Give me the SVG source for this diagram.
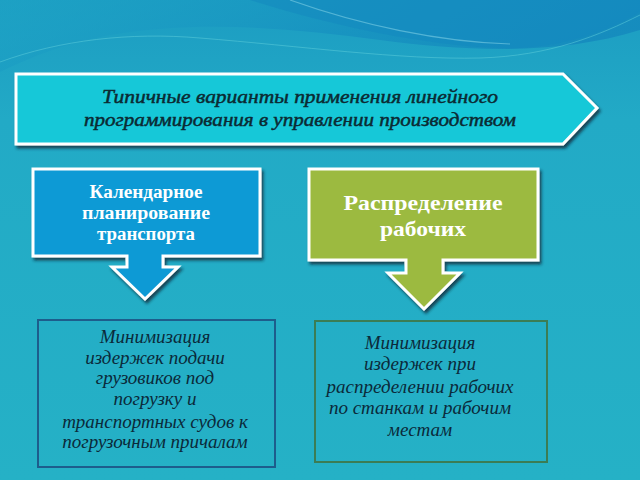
<svg xmlns="http://www.w3.org/2000/svg" width="640" height="480" viewBox="0 0 640 480">
<defs>
<linearGradient id="bg" x1="0" y1="0" x2="0" y2="1">
<stop offset="0" stop-color="#1c9cc2"/>
<stop offset="0.25" stop-color="#22aac6"/>
<stop offset="1" stop-color="#25b1c6"/>
</linearGradient>
<linearGradient id="topwave" x1="0" y1="0" x2="1" y2="0.3">
<stop offset="0" stop-color="#1ea6c6" stop-opacity="0.6"/>
<stop offset="0.6" stop-color="#1690c0" stop-opacity="0.9"/>
<stop offset="1" stop-color="#1488bd"/>
</linearGradient>
<filter id="sh" x="-10%" y="-10%" width="125%" height="130%">
<feDropShadow dx="2" dy="3" stdDeviation="1.5" flood-color="#0a2030" flood-opacity="0.75"/>
</filter>
</defs>
<style>
.hdr{font-family:"Liberation Serif",serif;font-style:italic;font-size:18px;fill:#0b2a33;stroke:#0b2a33;stroke-width:0.45;text-anchor:middle}
.wh{font-family:"Liberation Serif",serif;font-weight:bold;fill:#ffffff;text-anchor:middle}
.it{font-family:"Liberation Serif",serif;font-style:italic;font-size:19px;fill:#0b2a3a;text-anchor:middle}
.shape{stroke:#ffffff;stroke-width:3;stroke-linejoin:miter;filter:url(#sh)}
</style>
<rect width="640" height="480" fill="url(#bg)"/>
<path d="M0,0 H640 V30 C560,55 470,52 380,40 C290,28 200,20 110,35 C60,44 25,60 0,72 Z" fill="url(#topwave)" opacity="0.8"/>
<path d="M250,0 C330,25 420,45 500,48 C560,50 610,30 640,12 V0 Z" fill="#1488c0" opacity="0.55"/>
<path d="M0,62 C60,40 130,32 200,38 C300,46 400,60 480,58 C550,56 600,35 640,15" fill="none" stroke="#5fd0dc" stroke-width="1" opacity="0.5"/>
<path d="M290,0 C360,25 440,42 510,44" fill="none" stroke="#8fdceb" stroke-width="1.2" opacity="0.5"/>

<g id="header">
<path class="shape" d="M16,74 H563 L597,108 L563,144 H16 Z" fill="#15c8d8"/>
<text class="hdr" x="300" y="103" textLength="396" lengthAdjust="spacingAndGlyphs">Типичные варианты применения линейного</text>
<text class="hdr" x="300" y="126" textLength="432" lengthAdjust="spacingAndGlyphs">программирования в управлении производством</text>
</g>

<g id="calendar">
<path class="shape" d="M33,169 H260 V256 H163 V267 H178 L145,299 L112,267 H127 V256 H33 Z" fill="#109ad5"/>
<text class="wh" font-size="18" x="146" y="198" textLength="113" lengthAdjust="spacingAndGlyphs">Календарное</text>
<text class="wh" font-size="18" x="146" y="219" textLength="128" lengthAdjust="spacingAndGlyphs">планирование</text>
<text class="wh" font-size="18" x="146" y="240" textLength="98" lengthAdjust="spacingAndGlyphs">транспорта</text>
</g>

<g id="workers">
<path class="shape" d="M309,169 H538 V260 H443 V273 H460 L424,309 L388,273 H406 V260 H309 Z" fill="#9cba40"/>
<text class="wh" font-size="21" x="423" y="210" textLength="159" lengthAdjust="spacingAndGlyphs">Распределение</text>
<text class="wh" font-size="21" x="423" y="236" textLength="86" lengthAdjust="spacingAndGlyphs">рабочих</text>
</g>

<g id="box-left">
<rect x="38" y="320" width="237" height="147" fill="none" stroke="#1d5d8c" stroke-width="2"/>
<text class="it" x="155" y="343">Минимизация</text>
<text class="it" x="155" y="364">издержек подачи</text>
<text class="it" x="155" y="384">грузовиков под</text>
<text class="it" x="155" y="405">погрузку и</text>
<text class="it" x="155" y="428">транспортных судов к</text>
<text class="it" x="155" y="448">погрузочным причалам</text>
</g>

<g id="box-right">
<rect x="315" y="321" width="232" height="141" fill="none" stroke="#3b7d55" stroke-width="2"/>
<text class="it" x="420" y="349">Минимизация</text>
<text class="it" x="420" y="370">издержек при</text>
<text class="it" x="420" y="393">распределении рабочих</text>
<text class="it" x="420" y="414">по станкам и рабочим</text>
<text class="it" x="420" y="436">местам</text>
</g>

<g id="connectors"></g>
</svg>
